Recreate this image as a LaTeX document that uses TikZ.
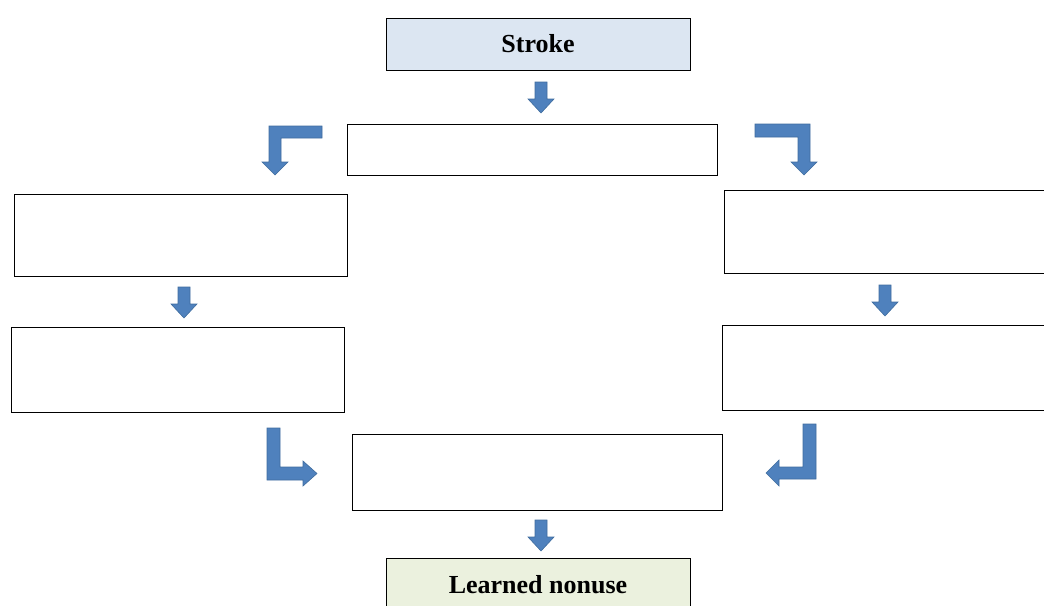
\documentclass[tikz,border=0pt]{standalone}
\usepackage{fontspec}
\setmainfont{Liberation Serif}
\definecolor{arrowblue}{HTML}{4F81BD}
\definecolor{arrowedge}{HTML}{3F6C9E}
\definecolor{strokefill}{HTML}{DCE6F2}
\definecolor{nonusefill}{HTML}{EBF1DE}
\tikzset{
  blockarrow/.style={fill=arrowblue, draw=arrowedge, line width=0.6pt, line join=miter},
  box/.style={draw=black, line width=0.9pt, inner sep=0pt, font=\bfseries\fontsize{26}{30}\selectfont},
  downarr/.pic={\path[blockarrow] (-6,0) -- (6,0) -- (6,17) -- (13,17) -- (0,31) -- (-13,17) -- (-6,17) -- cycle;}
}
\begin{document}
\begin{tikzpicture}[x=1pt,y=-1pt]
\useasboundingbox (0,0) rectangle (1044,605);
\clip (0,0) rectangle (1044,605);
% boxes
\node[box, fill=strokefill, minimum width=304pt, minimum height=52pt] (stroke) at (538,44) {Stroke};
\node[box, minimum width=370pt, minimum height=51pt] (top) at (532,149.5) {};
\node[box, minimum width=333pt, minimum height=82pt] (l1) at (180.5,235) {};
\node[box, minimum width=333pt, minimum height=85pt] (l2) at (177.5,369.5) {};
\node[box, minimum width=333pt, minimum height=83pt] (r1) at (890.5,231.5) {};
\node[box, minimum width=333pt, minimum height=85pt] (r2) at (888.5,367.5) {};
\node[box, minimum width=370pt, minimum height=76pt] (bot) at (537,472) {};
\node[box, fill=nonusefill, minimum width=304pt, minimum height=54pt] (nonuse) at (538,585) {Learned nonuse};
% straight block arrows
\pic at (541,82) {downarr};
\pic at (184,287) {downarr};
\pic at (885,285) {downarr};
\pic at (541,520) {downarr};
% bent block arrows
\path[blockarrow] (322,126) -- (322,138) -- (281,138) -- (281,162) -- (288,162) -- (275,175) -- (262,162) -- (269,162) -- (269,126) -- cycle;
\path[blockarrow] (755,124) -- (810,124) -- (810,162) -- (817,162) -- (804,175) -- (791,162) -- (798,162) -- (798,137) -- (755,137) -- cycle;
\path[blockarrow] (267,428) -- (280,428) -- (280,467) -- (303,467) -- (303,461) -- (317,473.5) -- (303,486) -- (303,480) -- (267,480) -- cycle;
\path[blockarrow] (803,424) -- (816,424) -- (816,479) -- (779,479) -- (779,486) -- (766,473) -- (779,460) -- (779,467) -- (803,467) -- cycle;
\end{tikzpicture}
\end{document}
